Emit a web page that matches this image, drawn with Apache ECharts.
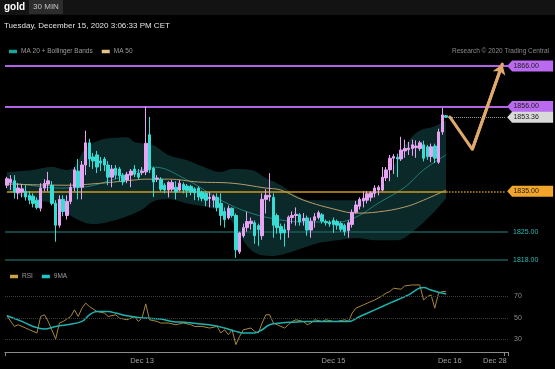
<!DOCTYPE html>
<html><head><meta charset="utf-8">
<script src="https://cdn.jsdelivr.net/npm/echarts@6/dist/echarts.min.js"></script>
<style>html,body{margin:0;padding:0;background:#000;}#c{width:555px;height:369px;}</style>
</head><body><div id="c"></div>
<script>
// ---- data ----
const slotCount = 134; // 30-min slots incl. forecast area
const categories = []; for (let i = 0; i < slotCount; i++) categories.push(String(i));
const dateTickIndex = [36, 87, 118, 130];
const dateTickLabel = ['Dec 13', 'Dec 15', 'Dec 16', 'Dec 28'];

// [open, close, low, high]
const candles = [
[1836.5,1838.1,1835.8,1838.6],[1837.2,1838.0,1835.3,1839.0],[1837.6,1834.8,1833.2,1839.0],[1834.6,1835.8,1833.0,1837.0],
[1834.8,1835.6,1833.5,1836.8],[1835.0,1833.6,1832.7,1836.5],[1834.0,1832.8,1831.8,1835.0],[1833.8,1832.0,1831.0,1834.5],
[1832.8,1831.0,1830.5,1833.5],[1830.8,1835.8,1830.0,1837.0],[1835.8,1837.0,1835.0,1838.0],[1836.8,1837.6,1835.0,1839.8],
[1836.5,1832.0,1831.5,1837.5],[1832.0,1826.6,1822.5,1832.8],[1826.6,1833.0,1826.0,1834.0],[1833.0,1830.0,1828.8,1834.0],
[1829.0,1832.5,1828.0,1834.0],[1832.5,1836.0,1831.8,1837.0],[1836.0,1840.3,1835.0,1841.0],[1840.0,1836.0,1833.0,1843.0],
[1836.0,1841.5,1833.0,1842.5],[1841.5,1847.0,1839.0,1850.0],[1847.0,1843.0,1841.0,1848.0],[1843.5,1842.5,1840.5,1844.5],
[1844.0,1841.0,1839.5,1845.0],[1842.5,1842.0,1840.0,1843.5],[1843.0,1841.5,1840.0,1843.5],[1841.5,1838.5,1836.5,1842.5],
[1838.5,1840.5,1836.0,1841.5],[1840.7,1839.0,1838.0,1841.5],[1840.5,1838.8,1837.5,1841.0],[1839.0,1837.3,1836.5,1839.5],
[1837.8,1839.2,1837.0,1839.8],[1839.0,1840.0,1836.0,1840.5],[1840.5,1839.2,1838.5,1841.5],[1839.5,1838.5,1838.0,1840.5],
[1839.6,1840.0,1839.0,1841.0],[1839.8,1846.9,1839.0,1856.0],[1849.0,1840.3,1839.5,1853.4],[1840.7,1837.3,1833.6,1841.0],
[1838.0,1838.3,1837.3,1839.0],[1838.0,1835.5,1835.0,1838.5],[1836.5,1835.3,1834.5,1837.0],[1835.3,1837.2,1833.5,1837.5],
[1835.5,1837.2,1835.0,1837.8],[1836.0,1834.8,1833.0,1837.5],[1835.3,1837.0,1835.0,1837.8],[1836.7,1835.3,1834.5,1837.2],
[1836.3,1835.2,1833.5,1836.8],[1836.2,1834.8,1834.0,1836.6],[1835.6,1834.6,1832.8,1836.0],[1835.8,1833.6,1832.7,1836.2],
[1834.8,1833.2,1832.5,1835.2],[1834.5,1832.8,1831.3,1835.0],[1833.2,1833.5,1831.0,1834.8],[1832.8,1833.8,1831.0,1834.2],
[1833.5,1831.0,1830.0,1834.5],[1832.0,1829.0,1826.5,1834.5],[1830.0,1828.0,1826.0,1831.0],[1828.4,1830.8,1828.0,1831.5],
[1830.8,1829.0,1828.5,1831.0],[1829.0,1820.5,1818.5,1829.5],[1820.0,1824.7,1819.5,1825.0],[1824.0,1826.0,1823.5,1827.0],
[1826.0,1827.5,1825.0,1830.0],[1827.0,1827.6,1825.5,1828.5],[1827.2,1824.0,1822.0,1827.8],[1826.5,1825.5,1821.5,1827.0],
[1824.0,1833.0,1823.0,1834.5],[1833.0,1834.0,1829.5,1835.5],[1833.6,1834.0,1832.5,1839.5],[1833.5,1826.6,1823.5,1834.5],
[1829.0,1826.0,1824.5,1829.5],[1826.3,1824.7,1823.0,1827.0],[1825.5,1824.7,1821.3,1827.0],[1825.4,1828.6,1823.5,1829.0],
[1828.5,1829.0,1827.0,1830.0],[1829.0,1829.3,1826.5,1831.0],[1829.2,1827.4,1826.5,1829.6],[1827.7,1828.3,1826.5,1829.6],
[1828.4,1825.4,1824.0,1829.0],[1825.4,1827.6,1823.5,1828.5],[1827.8,1828.7,1826.0,1829.6],[1828.5,1829.7,1828.0,1830.2],
[1829.2,1827.6,1827.0,1829.6],[1827.5,1827.2,1826.5,1828.0],[1827.3,1826.9,1826.2,1827.8],[1827.8,1826.8,1824.7,1828.5],
[1827.5,1826.6,1825.5,1828.0],[1827.0,1825.6,1825.0,1827.5],[1826.5,1825.0,1824.0,1827.0],[1825.3,1827.2,1823.5,1827.8],
[1826.8,1829.8,1826.0,1830.5],[1829.8,1831.6,1829.5,1832.6],[1831.3,1833.0,1830.5,1833.5],[1832.6,1833.3,1831.0,1835.0],
[1832.8,1834.4,1832.0,1835.0],[1833.5,1834.6,1832.5,1835.0],[1834.5,1835.8,1833.5,1836.5],[1835.3,1836.0,1834.0,1836.5],
[1835.3,1838.5,1835.0,1841.0],[1838.3,1840.3,1837.5,1841.0],[1840.3,1843.2,1837.5,1844.0],[1843.2,1843.6,1839.3,1844.2],
[1843.4,1843.0,1838.5,1844.3],[1843.0,1845.2,1842.5,1848.5],[1845.0,1845.6,1843.3,1847.8],[1845.3,1845.7,1844.0,1847.2],
[1845.6,1846.5,1843.8,1847.8],[1845.8,1846.2,1843.3,1847.6],[1845.6,1847.0,1845.0,1847.5],[1846.5,1843.2,1842.4,1847.5],
[1846.0,1843.6,1842.8,1846.5],[1843.6,1846.0,1842.2,1846.8],[1846.2,1843.2,1842.0,1846.8],[1842.2,1849.7,1841.8,1850.5],
[1849.7,1853.9,1849.0,1855.6],[1853.7,1853.36,1853.2,1853.9]
];

// indicator readings: [slot index, value]
const bbUpper = [[0,1839.8],[7,1840.3],[12,1841.0],[16,1840.3],[18,1841.0],[21,1845.7],[25,1847.7],[28,1848.2],[32,1848.4],[34,1847.2],[36,1846.9],[39,1846.4],[43,1844.0],[48,1842.7],[52,1841.2],[57,1839.8],[60,1840.5],[65,1840.3],[69,1838.3],[73,1836.5],[77,1834.1],[81,1832.8],[86,1832.8],[91,1832.8],[95,1833.3],[99,1835.3],[102,1839.0],[104,1843.0],[107,1847.5],[110,1850.0],[114,1851.1],[117,1852.6]];
const bbLower = [[0,1835.3],[7,1832.8],[12,1832.1],[16,1829.6],[19,1827.9],[23,1826.9],[27,1827.4],[32,1828.8],[36,1830.5],[39,1832.5],[43,1833.0],[48,1832.0],[56,1830.4],[60,1827.4],[65,1820.5],[70,1819.0],[74,1819.5],[79,1821.0],[83,1822.2],[88,1822.9],[93,1823.4],[99,1822.9],[104,1822.9],[108,1824.9],[113,1829.1],[117,1833.3]];
const ma20 = [[0,1837.3],[6,1836.5],[14,1835.8],[20,1836.0],[28,1837.8],[36,1840.3],[39,1841.0],[48,1837.8],[57,1832.8],[65,1829.6],[73,1827.9],[79,1827.4],[88,1827.4],[93,1828.6],[99,1832.1],[106,1836.0],[111,1840.3],[117,1844.0]];
const ma50 = [[0,1836.8],[16,1836.5],[25,1837.0],[34,1837.8],[37,1838.0],[43,1838.0],[51,1837.3],[60,1837.0],[69,1835.8],[73,1835.3],[79,1832.8],[88,1830.4],[93,1829.6],[99,1829.9],[106,1831.1],[111,1832.8],[117,1835.3]];

const rsi = [[0,51.9],[2,41.9],[3,43.5],[5,40.4],[6,38.8],[8,35.8],[9,51.2],[10,52.8],[11,46.6],[13,30.2],[14,45.1],[15,46.6],[17,51.2],[18,57.4],[19,51.2],[20,59],[21,63.7],[22,60.5],[24,55.9],[26,54.4],[27,51.2],[29,52.8],[30,49.7],[32,48.1],[34,51.2],[35,46.6],[36,49.7],[37,63],[38,48.1],[40,46.6],[41,45.1],[43,45.1],[45,43.5],[47,45.1],[49,43.5],[50,41.9],[52,41.9],[54,40.4],[56,41.9],[57,35.8],[58,38.8],[59,34.2],[60,38.8],[61,24.9],[62,32.6],[63,38.8],[65,40.4],[66,37.3],[67,35.8],[68,45.1],[69,52.8],[70,52.8],[71,45.1],[73,41.9],[74,40.4],[75,43.5],[76,46.6],[77,48.1],[79,46.6],[80,43.5],[81,45.1],[82,48.1],[84,46.6],[85,48.1],[87,46.6],[88,46.6],[90,48.1],[91,46.6],[92,54.4],[93,59],[95,62.1],[97,65.2],[98,66.7],[100,70.5],[101,73],[102,74.5],[103,77.6],[105,76.7],[106,79.8],[108,80.7],[110,80.7],[111,66.7],[112,69.8],[113,71.4],[114,59],[115,73],[116,74.5],[117,74.5]];
const rsiMA9 = [[0,51.9],[4,46.6],[7,41.9],[10,39.5],[13,41.9],[16,43.5],[20,46.6],[22,52.8],[24,55.9],[27,55.9],[29,54.4],[32,51.9],[35,50.3],[37,49.7],[41,48.8],[44,46.6],[48,45.6],[51,44.4],[55,42.8],[58,40.4],[61,37.3],[63,35.8],[66,35.8],[68,38.8],[70,43.5],[73,45.1],[77,46],[80,46.6],[85,46.6],[89,46.6],[91,46.6],[94,51.2],[98,57.4],[102,63.7],[107,71.4],[110,77.8],[111,78.3],[113,76],[115,73.9],[117,72.3]];
const rsiLevels = [70, 50, 30];

const resistanceLevels = [1866, 1856];
const pivotLevel = 1835;
const supportLevels = [1825, 1818];
const lastPrice = 1853.36;
const lastIndex = 117;
const forecastPath = [[118,1853.4],[124,1845.4],[132,1866.5]];

// ---- chart ----
const FONT = '"Liberation Sans", Arial, sans-serif';
const endSlot = slotCount - 1;
const tagPath = 'path://M0,5.5 L5,0 L46,0 L46,11 L5,11 Z';
const PURPLE = '#b063e4', PURPLE_TAG = '#b96aee', GOLD = '#c99a22', GOLD_TAG = '#f2a52b';
const TEAL_LINE = '#1b5a57', TEAL_TXT = '#2fb6b0';

const chart = echarts.init(document.getElementById('c'), null, {renderer: 'canvas'});
const tagLabel = {show: true, position: 'inside', color: '#1c1c1c', fontSize: 7, fontFamily: FONT, offset: [-4, 0],
  formatter: p => Number(p.value).toFixed(2)};

const option = {
  backgroundColor: '#000',
  animation: false,
  textStyle: {fontFamily: FONT},
  grid: [
    {left: 5, right: 47, top: 58, height: 208},
    {left: 5, right: 47, top: 275, height: 77}
  ],
  xAxis: [
    {type: 'category', data: categories, gridIndex: 0, boundaryGap: true,
     axisLine: {show: false}, axisTick: {show: false}, axisLabel: {show: false}, splitLine: {show: false}},
    {type: 'category', data: categories, gridIndex: 1, boundaryGap: true,
     axisLine: {lineStyle: {color: '#8c8c8c', width: 1}},
     axisTick: {show: true, interval: i => i === 0 || i === endSlot, length: 4, lineStyle: {color: '#8c8c8c'}},
     axisLabel: {interval: i => dateTickIndex.indexOf(i) >= 0,
       formatter: (v, i) => { const k = dateTickIndex.indexOf(i); return k >= 0 ? dateTickLabel[k] : ''; },
       color: '#a0a0a0', fontSize: 7.5, fontFamily: FONT, margin: 5},
     splitLine: {show: false}}
  ],
  yAxis: [
    {type: 'value', gridIndex: 0, min: 1816.5, max: 1868, show: false, splitLine: {show: false}},
    {type: 'value', gridIndex: 1, min: 18, max: 90, show: false, splitLine: {show: false}}
  ],
  legend: [
    {left: 4, top: 43, itemWidth: 8, itemHeight: 3.5, itemGap: 9, icon: 'rect', selectedMode: false,
     textStyle: {color: '#9c9c9c', fontSize: 6.5, fontFamily: FONT, padding: [0, 0, 0, -1]},
     data: [{name: 'MA 20 + Bollinger Bands', itemStyle: {color: '#1aa59c'}}, {name: 'MA 50', itemStyle: {color: '#e3c489'}}]},
    {left: 5, top: 268, itemWidth: 8, itemHeight: 3.5, itemGap: 9, icon: 'rect', selectedMode: false,
     textStyle: {color: '#9c9c9c', fontSize: 6.5, fontFamily: FONT, padding: [0, 0, 0, -1]},
     data: [{name: 'RSI', itemStyle: {color: '#c9a447'}}, {name: '9MA', itemStyle: {color: '#1ec8c8'}}]}
  ],
  graphic: [
    {type: 'rect', shape: {x: 0, y: 0, width: 555, height: 15}, style: {fill: '#131313'}, silent: true},
    {type: 'rect', shape: {x: 29, y: 0, width: 34, height: 14}, style: {fill: '#2c2c2c'}, silent: true},
    {type: 'text', x: 4, y: 7, style: {text: 'gold', fill: '#ffffff', font: 'bold 10px "Liberation Sans"', align: 'left', verticalAlign: 'middle'}},
    {type: 'text', x: 46, y: 7, style: {text: '30 MIN', fill: '#c4c4c4', font: '8px "Liberation Sans"', align: 'center', verticalAlign: 'middle'}},
    {type: 'text', x: 4, y: 26, style: {text: 'Tuesday, December 15, 2020 3:06:33 PM CET', fill: '#e2e2e2', font: '8px "Liberation Sans"', align: 'left', verticalAlign: 'middle'}},
    {type: 'text', x: 549, y: 51, style: {text: 'Research \u00A9 2020 Trading Central', fill: '#8a8a8a', font: '6.5px "Liberation Sans"', align: 'right', verticalAlign: 'middle'}}
  ],
  series: [
    {name: 'bbUpper', type: 'line', xAxisIndex: 0, yAxisIndex: 0, data: bbUpper, smooth: 0.4, symbol: 'none',
     lineStyle: {width: 0, opacity: 0}, areaStyle: {color: '#0c2929', opacity: 1, origin: 'start'}, z: 1, silent: true},
    {name: 'bbLower', type: 'line', xAxisIndex: 0, yAxisIndex: 0, data: bbLower, smooth: 0.4, symbol: 'none',
     lineStyle: {width: 0, opacity: 0}, areaStyle: {color: '#000000', opacity: 1, origin: 'start'}, z: 2, silent: true},
    {name: 'MA 20 + Bollinger Bands', type: 'line', xAxisIndex: 0, yAxisIndex: 0, data: ma20, smooth: 0.4, symbol: 'none',
     lineStyle: {color: '#1f7d79', width: 1}, itemStyle: {color: '#1aa59c'}, z: 3, silent: true},
    {name: 'MA 50', type: 'line', xAxisIndex: 0, yAxisIndex: 0, data: ma50, smooth: 0.4, symbol: 'none',
     lineStyle: {color: '#b89c68', width: 1}, itemStyle: {color: '#e3c489'}, z: 3, silent: true},
    {name: 'gold', type: 'candlestick', xAxisIndex: 0, yAxisIndex: 0, data: candles, barWidth: 3, z: 5,
     itemStyle: {color: '#e6a4f2', color0: '#38dcd4', borderColor: '#e6a4f2', borderColor0: '#38dcd4', borderWidth: 1},
     markLine: {symbol: ['none', 'none'], silent: true, animation: false, label: {show: false},
       data: [
         {yAxis: resistanceLevels[0], lineStyle: {color: PURPLE, width: 2, type: 'solid'}},
         {yAxis: resistanceLevels[1], lineStyle: {color: PURPLE, width: 2, type: 'solid'}},
         [{coord: [0, pivotLevel], lineStyle: {color: GOLD, width: 1.5, type: 'solid'}}, {coord: [lastIndex, pivotLevel]}],
         [{coord: [lastIndex, pivotLevel], lineStyle: {color: GOLD, width: 1.5, type: 'dotted'}}, {coord: [endSlot, pivotLevel]}],
         [{coord: [lastIndex, lastPrice], lineStyle: {color: '#9a9a9a', width: 1, type: 'dotted'}}, {coord: [endSlot, lastPrice]}],
         {yAxis: supportLevels[0], lineStyle: {color: TEAL_LINE, width: 1.5, type: 'solid'},
          label: {show: true, position: 'end', formatter: supportLevels[0].toFixed(2), color: TEAL_TXT, fontSize: 7, fontFamily: FONT, distance: 5}},
         {yAxis: supportLevels[1], lineStyle: {color: TEAL_LINE, width: 1.5, type: 'solid'},
          label: {show: true, position: 'end', formatter: supportLevels[1].toFixed(2), color: TEAL_TXT, fontSize: 7, fontFamily: FONT, distance: 5}}
       ]},
     markPoint: {symbol: tagPath, symbolSize: [46, 11], symbolOffset: [24, 0], symbolKeepAspect: false, silent: true, animation: false,
       label: tagLabel,
       data: [
         {coord: [endSlot, resistanceLevels[0]], value: resistanceLevels[0], itemStyle: {color: PURPLE_TAG}},
         {coord: [endSlot, resistanceLevels[1]], value: resistanceLevels[1], itemStyle: {color: PURPLE_TAG}},
         {coord: [endSlot, lastPrice], value: lastPrice, itemStyle: {color: '#d9d9d9'}},
         {coord: [endSlot, pivotLevel], value: pivotLevel, itemStyle: {color: GOLD_TAG}}
       ]}
    },
    {name: 'forecast', type: 'line', xAxisIndex: 0, yAxisIndex: 0, data: forecastPath, symbol: 'none', z: 8,
     lineStyle: {color: '#e2a96c', width: 3, cap: 'round', join: 'round'}, silent: true,
     markLine: {symbol: ['none', 'arrow'], symbolSize: 10, silent: true, animation: false, label: {show: false},
       lineStyle: {color: '#e2a96c', width: 3, type: 'solid'},
       data: [[{coord: forecastPath[1]}, {coord: forecastPath[2]}]]}},
    {name: 'RSI', type: 'line', xAxisIndex: 1, yAxisIndex: 1, data: rsi, symbol: 'none',
     lineStyle: {color: '#a8873c', width: 1}, itemStyle: {color: '#c9a447'}, z: 3, silent: true,
     markLine: {symbol: ['none', 'none'], silent: true, animation: false,
       lineStyle: {color: '#3c3c3c', width: 1, type: 'dotted'},
       label: {show: true, position: 'end', color: '#8c8c8c', fontSize: 7, fontFamily: FONT, distance: 6, formatter: '{c}'},
       data: rsiLevels.map(v => ({yAxis: v}))}},
    {name: '9MA', type: 'line', xAxisIndex: 1, yAxisIndex: 1, data: rsiMA9, smooth: 0.4, symbol: 'none',
     lineStyle: {color: '#1fb3b0', width: 1.5}, itemStyle: {color: '#1ec8c8'}, z: 4, silent: true}
  ]
};
chart.setOption(option);
</script>
</body></html>
